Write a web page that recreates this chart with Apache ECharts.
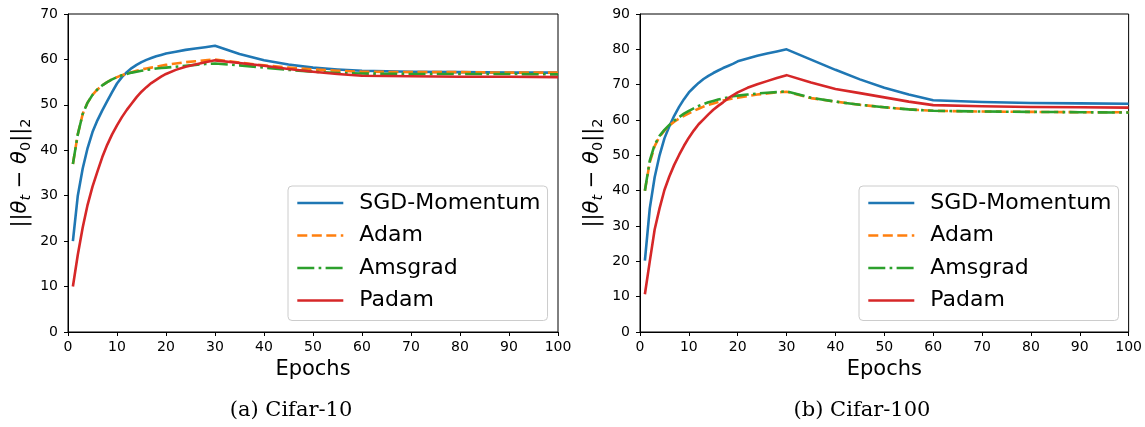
<!DOCTYPE html>
<html>
<head>
<meta charset="utf-8">
<script src="https://cdn.jsdelivr.net/npm/echarts@6/dist/echarts.min.js"></script>
<style>
html,body{margin:0;padding:0;background:#fff;}
#c{width:1145px;height:427px;}
</style>
</head>
<body>
<div id="c"></div>
<script>
// ---- data ----
const epochs = [1,2,3,4,5,6,7,8,9,10,11,12,13,14,15,16,17,18,19,20,22,24,26,28,30,35,40,45,50,55,60,70,80,90,100];

const seriesNames = ['SGD-Momentum', 'Adam', 'Amsgrad', 'Padam'];
const captions = ['(a) Cifar-10', '(b) Cifar-100'];

// Cifar-10
const sgdC10   = [20,30,36,40.5,44,46.6,48.8,50.8,52.8,54.7,56.1,57.2,58.1,58.8,59.4,59.9,60.3,60.7,61,61.3,61.7,62.1,62.4,62.7,63,61.2,59.8,58.9,58.2,57.8,57.5,57.3,57.2,57.1,57.1];
const adamC10  = [37,43.5,48,50.5,52.2,53.4,54.3,55,55.6,56.1,56.5,56.9,57.2,57.5,57.8,58,58.2,58.4,58.6,58.8,59.1,59.4,59.6,59.8,60,59.3,58.7,58.2,57.8,57.5,57.3,57.2,57.2,57.1,57.1];
const amsC10   = [37,43.5,48,50.5,52.2,53.4,54.3,55,55.6,56.1,56.5,56.8,57.1,57.3,57.5,57.7,57.8,58,58.1,58.2,58.4,58.6,58.8,59,59.1,58.7,58.2,57.7,57.3,57,56.9,56.8,56.8,56.8,56.7];
const padamC10 = [10,17,23,28,32,35.3,38.5,41.2,43.5,45.5,47.3,48.9,50.3,51.7,52.9,53.9,54.8,55.5,56.2,56.8,57.7,58.4,58.9,59.4,59.8,59.2,58.6,57.9,57.3,56.8,56.4,56.3,56.2,56.2,56.1];

// Cifar-100
const sgdC100   = [20.2,35,43.8,50,54.8,58.2,61.2,63.7,65.9,67.8,69.2,70.5,71.6,72.5,73.3,74,74.7,75.3,75.9,76.6,77.4,78.2,78.8,79.4,80,77.1,74.2,71.5,69.1,67.2,65.6,65.1,64.8,64.7,64.6];
const adamC100  = [40,48,52.6,55.3,57,58.4,59.5,60.4,61.2,61.9,62.6,63.2,63.8,64.3,64.7,65.1,65.5,65.8,66.1,66.3,66.8,67.2,67.5,67.8,68,66.2,65.2,64.3,63.6,63,62.6,62.4,62.3,62.2,62.2];
const amsC100   = [40,48.5,53,55.5,57.2,58.6,59.8,60.8,61.8,62.6,63.3,64,64.5,65,65.4,65.8,66.1,66.4,66.7,66.9,67.2,67.5,67.7,67.9,68.1,66.3,65.2,64.3,63.6,63,62.6,62.4,62.3,62.2,62.1];
const padamC100 = [10.7,20,29,35,40.2,44,47.3,50.1,52.7,55,57,58.8,60.2,61.6,62.9,64,65,66.1,67,67.8,69.1,70.1,71,71.9,72.7,70.6,68.8,67.6,66.4,65.2,64.2,63.9,63.7,63.6,63.5];

const yMaxes = [70, 90];

// ---- styles ----
const colors = ['#1f77b4', '#ff7f0e', '#2ca02c', '#d62728'];
const dashes = ['solid', [10, 4.5], [17, 4.3, 2.7, 4.3], 'solid'];
const LW = 2.6;

function mk(name, vals, g, idx) {
  return {
    type: 'line', name: name,
    xAxisIndex: g, yAxisIndex: g,
    data: epochs.map((e, i) => [e, vals[i]]),
    symbol: 'none', smooth: false,
    lineStyle: { color: colors[idx], width: LW, type: dashes[idx], cap: 'butt', join: 'round' },
    itemStyle: { color: colors[idx] },
    z: 2 + idx
  };
}

const sets = [[sgdC10, adamC10, amsC10, padamC10], [sgdC100, adamC100, amsC100, padamC100]];
const series = [];
sets.forEach((s, g) => s.forEach((v, i) => series.push(mk(seriesNames[i], v, g, i))));

const grids = [
  { left: 68, top: 14, width: 490, height: 318 },
  { left: 640, top: 14, width: 490, height: 318 }
].map(g => Object.assign(g, { show: true, borderColor: '#000', borderWidth: 1, backgroundColor: 'transparent', containLabel: false }));

const tickFont = { fontFamily: 'DejaVu Sans', fontSize: 14, color: '#000' };

const xAxes = [0, 1].map(g => ({
  type: 'value', gridIndex: g, min: 0, max: 100, interval: 10,
  name: 'Epochs', nameLocation: 'middle', nameGap: 27,
  nameTextStyle: { fontFamily: 'DejaVu Sans', fontSize: 21, color: '#000' },
  axisLine: { show: true, lineStyle: { color: '#000', width: 1 } },
  axisTick: { show: true, inside: false, length: 4, lineStyle: { color: '#000', width: 1 } },
  axisLabel: Object.assign({ margin: 8 }, tickFont),
  splitLine: { show: false }
}));

const yName = '{a|||}{i|θ}{si|t}{a| − }{i|θ}{s|0}{a|||}{s|2}';
const yRich = {
  a: { fontFamily: 'DejaVu Sans', fontSize: 21, color: '#000', lineHeight: 26, verticalAlign: 'middle' },
  i: { fontFamily: 'DejaVu Sans', fontStyle: 'italic', fontSize: 21, color: '#000', lineHeight: 26, verticalAlign: 'middle' },
  si: { fontFamily: 'DejaVu Sans', fontStyle: 'italic', fontSize: 14.5, color: '#000', lineHeight: 16, verticalAlign: 'bottom' },
  s: { fontFamily: 'DejaVu Sans', fontSize: 14.5, color: '#000', lineHeight: 16, verticalAlign: 'bottom' }
};

const yAxes = [0, 1].map(g => ({
  type: 'value', gridIndex: g, min: 0, max: yMaxes[g], interval: 10,
  name: yName, nameLocation: 'middle', nameRotate: 90, nameGap: 34,
  nameTextStyle: { rich: yRich },
  axisLine: { show: true, lineStyle: { color: '#000', width: 1 } },
  axisTick: { show: true, inside: false, length: 4, lineStyle: { color: '#000', width: 1 } },
  axisLabel: Object.assign({ margin: 10 }, tickFont),
  splitLine: { show: false }
}));

const legends = [288, 859].map(lx => ({
  orient: 'vertical', left: lx, top: 186,
  data: seriesNames, selectedMode: false,
  itemWidth: 46, itemHeight: 14, itemGap: 8.5,
  padding: [5, 7, 8, 8],
  itemStyle: { opacity: 0, borderWidth: 0 },
  lineStyle: { width: LW },
  backgroundColor: 'rgba(255,255,255,0.8)',
  borderColor: '#cccccc', borderWidth: 1, borderRadius: 4,
  textStyle: { fontFamily: 'DejaVu Sans', fontSize: 22, color: '#000', lineHeight: 24, padding: [0, 0, 0, 11] }
}));

const capX = [291, 862];
const graphics = captions.map((t, i) => ({
  type: 'text', x: capX[i], y: 411,
  style: { text: t, font: '21px "DejaVu Serif"', fill: '#000', textAlign: 'center', textVerticalAlign: 'middle' }
}));

const chart = echarts.init(document.getElementById('c'), null, { renderer: 'canvas' });
chart.setOption({
  animation: false,
  backgroundColor: '#fff',
  grid: grids,
  xAxis: xAxes,
  yAxis: yAxes,
  legend: legends,
  graphic: graphics,
  series: series
});
</script>
</body>
</html>
